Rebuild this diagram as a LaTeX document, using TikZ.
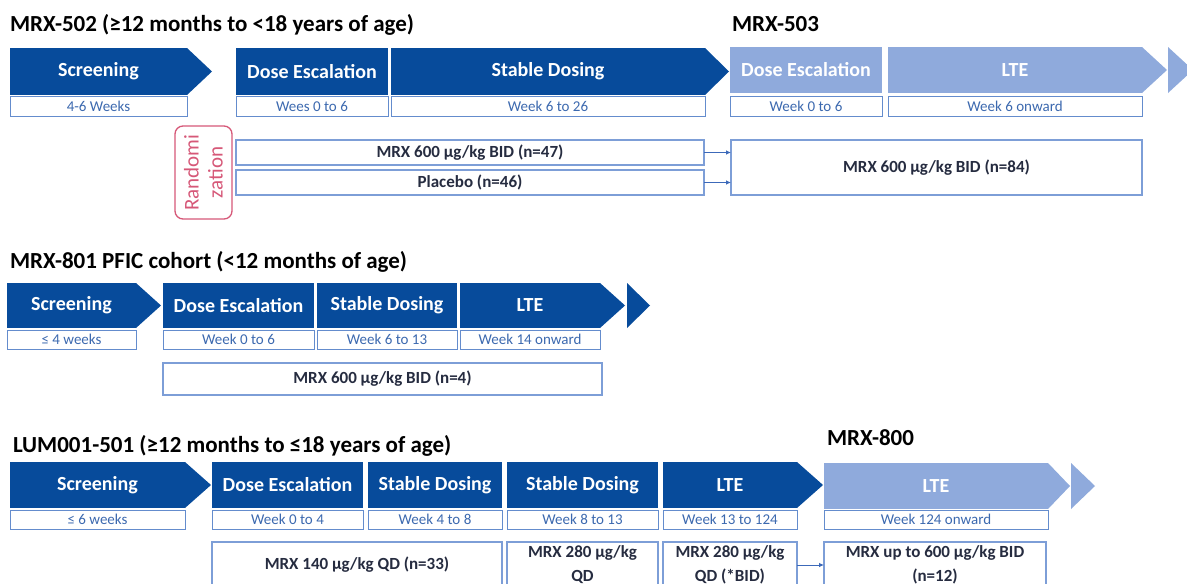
\documentclass[tikz,border=0pt]{standalone}
\usepackage{fontspec}
\setmainfont{Carlito}
\usetikzlibrary{arrows.meta}
\definecolor{dkblue}{RGB}{7,75,155}
\definecolor{ltblue}{RGB}{143,170,220}
\definecolor{subline}{RGB}{100,140,205}
\definecolor{subtext}{RGB}{60,105,175}
\definecolor{boxline}{RGB}{125,158,215}
\definecolor{boxtext}{RGB}{38,44,64}
\definecolor{randc}{RGB}{214,88,120}
\definecolor{connc}{RGB}{60,105,185}
\newcommand\phasetip[3]{\fill[#1] (#2.north east) -- ([xshift=#3pt]#2.east) -- (#2.south east) -- cycle;}
\begin{document}
\begin{tikzpicture}[x=1pt,y=-1pt,
  every node/.style={inner sep=0pt,outer sep=0pt},
  phase/.style={anchor=north west, text=white, font=\fontsize{20}{24}\selectfont\bfseries},
  dk/.style={phase, fill=dkblue},
  lt/.style={phase, fill=ltblue},
  subbox/.style={anchor=north west, draw=subline, line width=1pt, fill=white, text=subtext, font=\fontsize{15}{18}\selectfont},
  armbox/.style={anchor=north west, draw=boxline, line width=1.2pt, fill=white, text=boxtext, font=\fontsize{17}{24}\selectfont\bfseries, align=center},
  randbox/.style={rotate=90, draw=randc, line width=1.3pt, rounded corners=8pt, fill=white, text=randc, font=\fontsize{21}{24}\selectfont, align=center, minimum width=93pt, minimum height=57pt},
  titlestyle/.style={anchor=base west, font=\fontsize{23}{27}\selectfont\bfseries, text=black},
  conn/.style={draw=connc, line width=0.8pt, -{Latex[length=5pt,width=4.5pt]}}
]
\useasboundingbox (0,0) rectangle (1187,584);
\clip (0,0) rectangle (1187,584);
\fill[white] (0,0) rectangle (1187,584);

% ---------------- Row 1 ----------------
\node[titlestyle] (t1) at (10,31) {MRX-502 (≥12 months to <18 years of age)};
\node[titlestyle] (t1b) at (732,31) {MRX-503};
\node[dk, minimum width=177pt, minimum height=47pt] (scr1) at (10,48) {Screening};
\phasetip{dkblue}{scr1}{25}
\node[dk, minimum width=152pt, minimum height=47pt] (de1) at (236,48) {Dose Escalation};
\node[dk, minimum width=314pt, minimum height=47pt] (sd1) at (391,48) {Stable Dosing};
\phasetip{dkblue}{sd1}{24}
\node[lt, minimum width=152pt, minimum height=46pt] (de1b) at (730,47) {Dose Escalation};
\node[lt, minimum width=254pt, minimum height=46pt] (lte1) at (888,47) {LTE};
\phasetip{ltblue}{lte1}{25}
\fill[ltblue] (1168,47) -- (1193,70) -- (1168,93) -- cycle;

\node[subbox, minimum width=177pt, minimum height=20pt] (scr1s) at (10,96) {4-6 Weeks};
\node[subbox, minimum width=152pt, minimum height=20pt] (de1s) at (236,96) {Wees 0 to 6};
\node[subbox, minimum width=314pt, minimum height=20pt] (sd1s) at (391,96) {Week 6 to 26};
\node[subbox, minimum width=152pt, minimum height=20pt] (de1bs) at (730,96) {Week 0 to 6};
\node[subbox, minimum width=254pt, minimum height=20pt] (lte1s) at (888,96) {Week 6 onward};

\node[randbox] (rand) at (203.5,172.5) {Randomi\\zation};
\node[armbox, minimum width=468pt, minimum height=25pt] (arm1) at (236,140) {MRX 600 µg/kg BID (n=47)};
\node[armbox, minimum width=468pt, minimum height=25pt] (arm2) at (236,170) {Placebo (n=46)};
\node[armbox, minimum width=411pt, minimum height=55pt] (big1) at (731,140) {MRX 600 µg/kg BID (n=84)};
\draw[conn] (arm1.east) -- (arm1.east -| big1.west);
\draw[conn] (arm2.east) -- (arm2.east -| big1.west);

% ---------------- Row 2 ----------------
\node[titlestyle] (t2) at (10,268) {MRX-801 PFIC cohort (<12 months of age)};
\node[dk, minimum width=129pt, minimum height=45pt] (scr2) at (7,283) {Screening};
\phasetip{dkblue}{scr2}{25}
\node[dk, minimum width=151pt, minimum height=45pt] (de2) at (163,283) {Dose Escalation};
\node[dk, minimum width=140pt, minimum height=45pt] (sd2) at (317,283) {Stable Dosing};
\node[dk, minimum width=140pt, minimum height=45pt] (lte2) at (460,283) {LTE};
\phasetip{dkblue}{lte2}{25}
\fill[dkblue] (627,283) -- (650,305.5) -- (627,328) -- cycle;

\node[subbox, minimum width=129pt, minimum height=19pt] (scr2s) at (7,330) {≤ 4 weeks};
\node[subbox, minimum width=151pt, minimum height=19pt] (de2s) at (163,330) {Week 0 to 6};
\node[subbox, minimum width=140pt, minimum height=19pt] (sd2s) at (317,330) {Week 6 to 13};
\node[subbox, minimum width=140pt, minimum height=19pt] (lte2s) at (460,330) {Week 14 onward};
\node[armbox, minimum width=439pt, minimum height=32pt] (big2) at (163,363) {MRX 600 µg/kg BID (n=4)};

% ---------------- Row 3 ----------------
\node[titlestyle] (t3) at (13,452) {LUM001-501 (≥12 months to ≤18 years of age)};
\node[titlestyle] (t3b) at (827,445) {MRX-800};
\node[dk, minimum width=175pt, minimum height=46pt] (scr3) at (10,462) {Screening};
\phasetip{dkblue}{scr3}{26}
\node[dk, minimum width=151pt, minimum height=46pt] (de3) at (212,462) {Dose Escalation};
\node[dk, minimum width=134pt, minimum height=46pt] (sd3) at (368,462) {Stable Dosing};
\node[dk, minimum width=151pt, minimum height=46pt] (sd3b) at (507,462) {Stable Dosing};
\node[dk, minimum width=134pt, minimum height=46pt] (lte3) at (663,462) {LTE};
\phasetip{dkblue}{lte3}{26}
\node[lt, minimum width=224pt, minimum height=46pt] (lte3b) at (824,463) {LTE};
\phasetip{ltblue}{lte3b}{22}
\fill[ltblue] (1071,463) -- (1095,486) -- (1071,509) -- cycle;

\node[subbox, minimum width=175pt, minimum height=19pt] (scr3s) at (10,510) {≤ 6 weeks};
\node[subbox, minimum width=151pt, minimum height=19pt] (de3s) at (212,510) {Week 0 to 4};
\node[subbox, minimum width=134pt, minimum height=19pt] (sd3s) at (368,510) {Week 4 to 8};
\node[subbox, minimum width=151pt, minimum height=19pt] (sd3bs) at (507,510) {Week 8 to 13};
\node[subbox, minimum width=134pt, minimum height=19pt] (lte3s) at (663,510) {Week 13 to 124};
\node[subbox, minimum width=224pt, minimum height=19pt] (lte3bs) at (824,510) {Week 124 onward};

\node[armbox, minimum width=290pt, minimum height=46pt] (b1) at (212,542) {MRX 140 µg/kg QD (n=33)};
\node[armbox, minimum width=151pt, minimum height=46pt] (b2) at (507,542) {MRX 280 µg/kg\\QD};
\node[armbox, minimum width=134pt, minimum height=46pt] (b3) at (663,542) {MRX 280 µg/kg\\QD (*BID)};
\node[armbox, minimum width=222pt, minimum height=46pt] (b4) at (824,542) {MRX up to 600 µg/kg BID\\(n=12)};
\draw[conn] (b3.east) -- (b3.east -| b4.west);
\end{tikzpicture}
\end{document}
